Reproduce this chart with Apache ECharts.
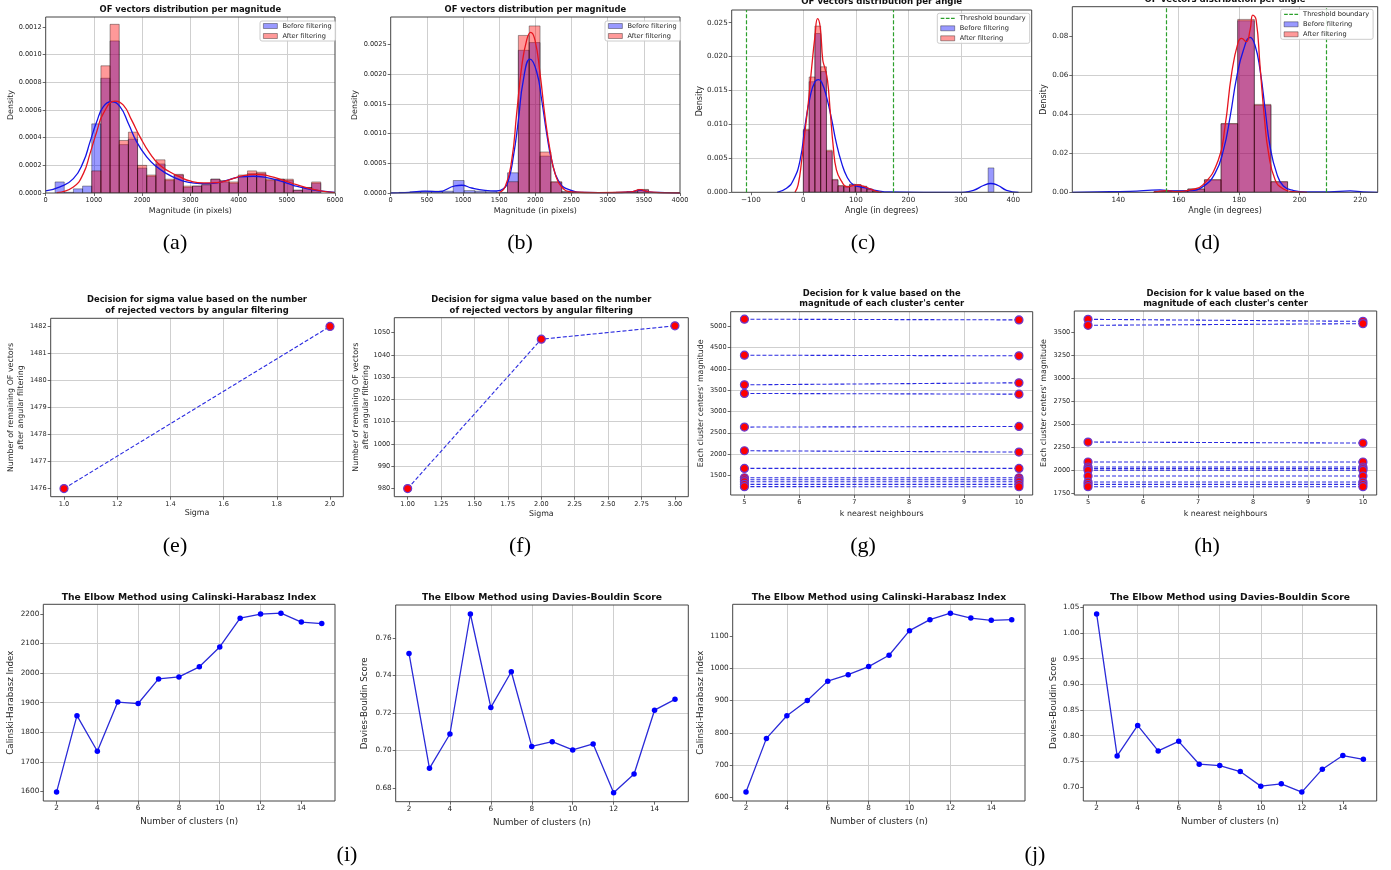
<!DOCTYPE html>
<html>
<head>
<meta charset="utf-8">
<title>OF vectors filtering and clustering</title>
<script src="https://cdn.jsdelivr.net/npm/echarts@6.0.0/dist/echarts.min.js"></script>
<style>
  html, body { margin: 0; padding: 0; background: #fff; }
  #main { width: 1391px; height: 870px; }
</style>
</head>
<body>
<div id="main"></div>
<script>
var FONT = 'DejaVu Sans';

// (a) magnitude histogram, first sequence
var aBinEdges = [195, 385, 575, 765, 955, 1145, 1335, 1525, 1715, 1905, 2095, 2285, 2475, 2665, 2855, 3045, 3235, 3425, 3615, 3805, 3995, 4185, 4375, 4565, 4755, 4945, 5135, 5325, 5515, 5705];
var aBefore = [0.00008, 0.000005, 0.00003, 0.00005, 0.0005, 0.00083, 0.0011, 0.00035, 0.00039, 0.00018, 0.00012, 0.00021, 0.00009, 0.00013, 0.00004, 0.00005, 0.00006, 0.0001, 0.00008, 0.00007, 0.00012, 0.00014, 0.00014, 0.00009, 0.0001, 0.00009, 0.00002, 0.00004, 0.00007];
var aAfter = [0, 0, 0, 0, 0.00016, 0.00092, 0.00122, 0.00038, 0.00044, 0.0002, 0.00013, 0.00024, 0.0001, 0.000135, 0.00005, 0.00005, 0.00006, 0.0001, 0.00009, 0.00008, 0.00013, 0.00016, 0.00015, 0.0001, 0.0001, 0.0001, 0.00002, 0.00004, 0.00008];
var aKdeBefore = [[0, 0.000015], [297, 0.000044], [574, 0.000104], [781, 0.000225], [919, 0.00037], [1058, 0.000515], [1196, 0.000624], [1369, 0.00066], [1541, 0.000624], [1714, 0.000503], [1887, 0.00037], [2094, 0.000261], [2302, 0.000189], [2509, 0.00014], [2716, 0.000104], [2924, 0.00008], [3200, 0.000068], [3477, 0.00007], [3753, 0.000092], [4030, 0.000116], [4306, 0.000121], [4583, 0.000111], [4859, 0.000087], [5136, 0.000056], [5412, 0.000031], [5689, 0.000015], [6000, 0.000005]];
var aKdeAfter = [[228, 0.000002], [574, 0.000044], [781, 0.00014], [919, 0.000285], [1058, 0.000443], [1196, 0.000576], [1438, 0.000665], [1611, 0.000636], [1783, 0.000527], [1956, 0.000406], [2164, 0.000285], [2371, 0.0002], [2578, 0.000152], [2786, 0.000116], [2993, 0.000087], [3270, 0.000073], [3546, 0.000075], [3822, 0.000097], [4099, 0.000126], [4375, 0.000135], [4652, 0.000121], [4928, 0.000092], [5205, 0.00006], [5481, 0.000031], [5758, 0.000012], [6000, 0.000002]];
var aXTicks = [0, 1000, 2000, 3000, 4000, 5000, 6000];
var aYTicks = [0, 0.0002, 0.0004, 0.0006, 0.0008, 0.001, 0.0012];

// (b) magnitude histogram, second sequence
var bBinEdges = [115, 265, 415, 565, 715, 865, 1015, 1165, 1315, 1465, 1615, 1765, 1915, 2065, 2215, 2365, 2515, 2665, 2815, 2965, 3115, 3265, 3415, 3565];
var bBefore = [0.00001, 0.00002, 0.00003, 0.00003, 0.00003, 0.00021, 0.00004, 0.00003, 0.00002, 0.00001, 0.00034, 0.0024, 0.00253, 0.00062, 0.00018, 0.00002, 0.00001, 0.000005, 0.000005, 0, 0.00001, 0.00002, 0.00005];
var bAfter = [0, 0, 0, 0, 0, 0, 0, 0, 0, 0, 0.00019, 0.00265, 0.00281, 0.00069, 0.00019, 0.00002, 0.00001, 0.000005, 0.000005, 0, 0.00001, 0.00002, 0.00006];
var bKdeBefore = [[0, 0], [198, 0.000006], [475, 0.00003], [659, 0.000022], [889, 0.00012], [982, 0.00013], [1120, 0.000084], [1304, 0.000045], [1465, 0.000034], [1558, 0.00007], [1627, 0.00021], [1696, 0.00061], [1765, 0.00122], [1834, 0.0019], [1926, 0.00225], [2018, 0.00204], [2088, 0.00156], [2157, 0.001], [2226, 0.00055], [2318, 0.00021], [2456, 0.00006], [2687, 0.00001], [3055, 0.000006], [3332, 0.00002], [3447, 0.00005], [3562, 0.00002], [3793, 0.000006], [4000, 0]];
var bKdeAfter = [[1488, 0], [1581, 0.0001], [1673, 0.00055], [1742, 0.00134], [1811, 0.00212], [1880, 0.00257], [1935, 0.0027], [1995, 0.00257], [2065, 0.00201], [2134, 0.00128], [2203, 0.00072], [2272, 0.00033], [2364, 0.0001], [2502, 0.00002], [2871, 0.000006], [3332, 0.00002], [3447, 0.000056], [3562, 0.00002], [4000, 0]];
var bXTicks = [0, 500, 1000, 1500, 2000, 2500, 3000, 3500, 4000];
var bYTicks = [0, 0.0005, 0.001, 0.0015, 0.002, 0.0025];

// (c) angle histogram, first sequence
var cBinEdges = [0, 11, 22, 33, 44, 55, 66, 77, 88, 99, 110, 121, 132, 143, 154, 165, 176, 187, 198, 209, 220, 231, 242, 253, 264, 275, 286, 297, 308, 319, 330, 341, 352, 363];
var cBefore = [0.0091, 0.0163, 0.0234, 0.0178, 0.006, 0.0018, 0.0009, 0.0008, 0.0011, 0.0011, 0.0008, 0.0004, 0.0001, 0, 0, 0, 0, 0, 0, 0, 0, 0, 0, 0, 0, 0, 0, 0, 0, 0, 0, 0, 0.0036];
var cAfter = [0.0093, 0.017, 0.0245, 0.0185, 0.0062, 0.0019, 0.001, 0.0009, 0.0012, 0.0011, 0.0009, 0.0005, 0.0001, 0, 0, 0, 0, 0, 0, 0, 0, 0, 0, 0, 0, 0, 0, 0, 0, 0, 0, 0, 0];
var cKdeBefore = [[-50, 0], [-32, 0.0006], [-19, 0.0018], [-6, 0.0048], [3, 0.0097], [13, 0.0141], [22, 0.0163], [29, 0.0166], [35, 0.0162], [44, 0.0141], [54, 0.0107], [63, 0.0072], [73, 0.0043], [83, 0.0023], [95, 0.0011], [108, 0.0008], [121, 0.0006], [140, 0.00025], [165, 0.00005], [229, 0], [292, 0], [324, 0.0003], [343, 0.001], [357, 0.0013], [371, 0.001], [387, 0.0003], [410, 0]];
var cKdeAfter = [[-16, 0], [-10, 0.0011], [-3, 0.0048], [3, 0.0089], [10, 0.0136], [16, 0.0185], [22, 0.0229], [27, 0.0256], [32, 0.0244], [37, 0.0195], [41, 0.0183], [46, 0.0165], [51, 0.0121], [57, 0.0067], [63, 0.0033], [73, 0.0016], [83, 0.0008], [95, 0.001], [105, 0.0011], [114, 0.0009], [127, 0.0005], [140, 0.0001], [149, 0]];
var cThresholds = [-109, 171];
var cXTicks = [-100, 0, 100, 200, 300, 400];
var cYTicks = [0, 0.005, 0.01, 0.015, 0.02, 0.025];

// (d) angle histogram, second sequence
var dBinEdges = [152, 157.5, 163, 168.5, 174, 179.5, 185, 190.5, 196];
var dBefore = [0.0005, 0.0007, 0.0017, 0.0063, 0.035, 0.0878, 0.0445, 0.0053];
var dAfter = [0.0005, 0.0007, 0.0017, 0.0065, 0.0352, 0.0885, 0.045, 0.0055];
var dKdeBefore = [[124.8, 0], [133, 0.0002], [143.9, 0.0005], [153.8, 0.0012], [158, 0.0007], [163.7, 0.0009], [168, 0.0029], [172, 0.0097], [174.8, 0.0217], [177, 0.0387], [179.2, 0.0592], [181.4, 0.0728], [183.6, 0.0793], [185.2, 0.0754], [186.9, 0.0626], [188.6, 0.0421], [190.2, 0.0234], [192.4, 0.0097], [194.6, 0.0032], [198, 0.0009], [202, 0.0002], [209.7, 0.0002], [216.7, 0.0007], [221, 0.0002], [225.8, 0]];
var dKdeAfter = [[151.6, 0], [156, 0.0009], [159.3, 0.0003], [163.7, 0.0012], [168, 0.0038], [173.1, 0.0165], [175.3, 0.0336], [177.5, 0.0609], [179.7, 0.0771], [180.8, 0.0788], [182.3, 0.0771], [183.6, 0.0831], [184.5, 0.0907], [185.6, 0.0882], [186.9, 0.0643], [188.3, 0.0387], [189.7, 0.02], [191.9, 0.0063], [194.6, 0.0017], [198, 0.0003], [202.4, 0]];
var dThresholds = [156, 208.7];
var dXTicks = [140, 160, 180, 200, 220];
var dYTicks = [0, 0.02, 0.04, 0.06, 0.08];

// (e) (f) sigma decision
var eSigma = [1, 2];
var eRemaining = [1476, 1482];
var eXTicks = [1, 1.2, 1.4, 1.6, 1.8, 2];
var eYTicks = [1476, 1477, 1478, 1479, 1480, 1481, 1482];
var fSigma = [1, 2, 3];
var fRemaining = [980, 1047, 1053];
var fXTicks = [1, 1.25, 1.5, 1.75, 2, 2.25, 2.5, 2.75, 3];
var fYTicks = [980, 990, 1000, 1010, 1020, 1030, 1040, 1050];

// (g) (h) k decision: cluster center magnitudes for k = 5 and k = 10
var kValues = [5, 10];
var gK5 = [5164, 4320, 3625, 3422, 2633, 2078, 1664, 1445, 1398, 1352, 1290, 1236];
var gK10 = [5148, 4305, 3672, 3406, 2648, 2047, 1664, 1445, 1398, 1352, 1290, 1234];
var gYTicks = [1500, 2000, 2500, 3000, 3500, 4000, 4500, 5000];
var hK5 = [3637, 3572, 2309, 2093, 2039, 2021, 2003, 1941, 1876, 1851, 1826];
var hK10 = [3615, 3590, 2298, 2093, 2039, 2021, 2003, 1941, 1876, 1851, 1826];
var hYTicks = [1750, 2000, 2250, 2500, 2750, 3000, 3250, 3500];
var kXTicks = [5, 6, 7, 8, 9, 10];

// (i) (j) elbow method
var nClusters = [2, 3, 4, 5, 6, 7, 8, 9, 10, 11, 12, 13, 14, 15];
var iCH = [1598, 1856, 1736, 1902, 1897, 1980, 1987, 2021, 2088, 2185, 2199, 2202, 2172, 2167];
var iDB = [0.7518, 0.6905, 0.7088, 0.7728, 0.723, 0.742, 0.7022, 0.7047, 0.7003, 0.7035, 0.6775, 0.6875, 0.7215, 0.7273];
var jCH = [617, 783, 853, 900, 960, 980, 1005, 1040, 1116, 1150, 1170, 1155, 1148, 1150];
var jDB = [1.0371, 0.7607, 0.8201, 0.7704, 0.7891, 0.7446, 0.742, 0.7303, 0.7019, 0.7065, 0.6903, 0.7349, 0.7614, 0.7542];
var nXTicks = [2, 4, 6, 8, 10, 12, 14];
var iCHTicks = [1600, 1700, 1800, 1900, 2000, 2100, 2200];
var iDBTicks = [0.68, 0.7, 0.72, 0.74, 0.76];
var jCHTicks = [600, 700, 800, 900, 1000, 1100];
var jDBTicks = [0.7, 0.75, 0.8, 0.85, 0.9, 0.95, 1.0, 1.05];

var BEFORE_FILL = 'rgba(0,0,255,0.4)';
var AFTER_FILL = 'rgba(255,0,0,0.4)';
var EDGE = 'rgba(0,0,0,0.45)';

function fmt(digits) {
    return function (v) {
        return v.toFixed(digits).replace('-', '\u2212');
    };
}

function axis(idx, min, max, ticks, digits, name, gap, tickSize, nameSize) {
    return {
        type: 'value', gridIndex: idx, min: min, max: max,
        name: name, nameLocation: 'middle', nameGap: gap, nameMoveOverlap: false,
        nameTextStyle: {fontFamily: FONT, fontSize: nameSize, color: '#262626', lineHeight: nameSize * 1.28},
        axisLine: {show: false, onZero: false},
        axisTick: {show: true, length: 3, customValues: ticks, lineStyle: {color: '#444', width: 0.8}},
        axisLabel: {customValues: ticks, margin: 4, fontFamily: FONT, fontSize: tickSize, color: '#262626', formatter: fmt(digits)},
        splitLine: {show: true, showMinLine: false, showMaxLine: false, lineStyle: {color: '#cfcfcf', width: 1}}
    };
}

function bins(edges, heights) {
    var out = [];
    for (var i = 0; i < heights.length; i++) {
        if (heights[i] > 0) out.push([edges[i], edges[i + 1], heights[i]]);
    }
    return out;
}

function histSeries(name, idx, edges, heights, fill) {
    return {
        type: 'custom', name: name, xAxisIndex: idx, yAxisIndex: idx,
        encode: {x: [0, 1], y: 2}, clip: true, z: 2,
        data: bins(edges, heights),
        renderItem: function (params, api) {
            var p0 = api.coord([api.value(0), api.value(2)]);
            var p1 = api.coord([api.value(1), 0]);
            return {
                type: 'rect',
                shape: {x: p0[0], y: p0[1], width: p1[0] - p0[0], height: p1[1] - p0[1]},
                style: {fill: fill, stroke: EDGE, lineWidth: 0.8}
            };
        }
    };
}

function kdeSeries(idx, pts, color) {
    return {
        type: 'line', xAxisIndex: idx, yAxisIndex: idx, data: pts,
        smooth: 0.5, symbol: 'none', silent: true, z: 4,
        lineStyle: {color: color, width: 1.3}
    };
}

function thresholdSeries(idx, values) {
    var lines = [];
    for (var i = 0; i < values.length; i++) lines.push({xAxis: values[i]});
    return {
        type: 'line', name: 'Threshold boundary', xAxisIndex: idx, yAxisIndex: idx, data: [],
        symbol: 'none', lineStyle: {color: '#2ca02c', type: [4, 2], width: 1.2},
        markLine: {symbol: 'none', silent: true, label: {show: false}, animation: false,
            lineStyle: {color: '#2ca02c', type: [4, 2], width: 1.2}, data: lines}
    };
}

function zip(xs, ys) {
    var out = [];
    for (var i = 0; i < xs.length; i++) out.push([xs[i], ys[i]]);
    return out;
}

function dashedPoints(idx, pts) {
    return {
        type: 'line', xAxisIndex: idx, yAxisIndex: idx, data: pts, z: 4,
        symbol: 'circle', symbolSize: 8,
        itemStyle: {color: '#ff0000', borderColor: '#6a3ad0', borderWidth: 1.2},
        lineStyle: {color: '#2a2ae0', type: [4, 2], width: 1.1}
    };
}

function elbowLine(idx, ys) {
    return {
        type: 'line', xAxisIndex: idx, yAxisIndex: idx, data: zip(nClusters, ys), z: 4,
        symbol: 'circle', symbolSize: 5.5,
        itemStyle: {color: '#0000ff'},
        lineStyle: {color: '#2a2ad8', width: 1.3}
    };
}

var grids = [
    {left: 45.7, top: 17, width: 289.3, height: 176},
    {left: 390.7, top: 17, width: 289.3, height: 176},
    {left: 731.7, top: 10, width: 300, height: 182.3},
    {left: 1072.3, top: 6.7, width: 305.4, height: 185.6},
    {left: 50.7, top: 318.3, width: 292.6, height: 178.4},
    {left: 394.3, top: 317.7, width: 294, height: 179},
    {left: 730.7, top: 311.7, width: 302, height: 183.3},
    {left: 1074.3, top: 311, width: 302.4, height: 184},
    {left: 43.3, top: 604.3, width: 291.7, height: 196.7},
    {left: 395.7, top: 605, width: 292.6, height: 196.7},
    {left: 732.7, top: 604.3, width: 292.3, height: 196.7},
    {left: 1083.3, top: 605, width: 293.4, height: 196}
];
for (var g = 0; g < grids.length; g++) {
    grids[g].show = true;
    grids[g].z = 5;
    grids[g].borderColor = '#444';
    grids[g].borderWidth = 1;
    grids[g].backgroundColor = 'rgba(0,0,0,0)';
    grids[g].containLabel = false;
    grids[g].outerBoundsMode = 'none';
}

var MAG = 'Magnitude (in pixels)', ANG = 'Angle (in degrees)', DEN = 'Density';
var SIG_Y = 'Number of remaining OF vectors\nafter angular filtering';
var K_Y = "Each cluster centers' magnitude";
var N_X = 'Number of clusters (n)';

var xAxes = [
    axis(0, 0, 6000, aXTicks, 0, MAG, 13.2, 6.6, 7.9),
    axis(1, 0, 4000, bXTicks, 0, MAG, 13.2, 6.6, 7.9),
    axis(2, -136.5, 435, cXTicks, 0, ANG, 13.2, 7.2, 8),
    axis(3, 124.8, 225.8, dXTicks, 0, ANG, 13.2, 7.2, 8),
    axis(4, 0.95, 2.05, eXTicks, 1, 'Sigma', 11.5, 6.6, 7.9),
    axis(5, 0.9, 3.1, fXTicks, 2, 'Sigma', 12, 6.6, 7.9),
    axis(6, 4.75, 10.25, kXTicks, 0, 'k nearest neighbours', 13.8, 6.6, 7.9),
    axis(7, 4.75, 10.25, kXTicks, 0, 'k nearest neighbours', 13.8, 6.6, 7.9),
    axis(8, 1.35, 15.65, nXTicks, 0, N_X, 15, 7.3, 8.7),
    axis(9, 1.35, 15.65, nXTicks, 0, N_X, 15, 7.3, 8.7),
    axis(10, 1.35, 15.65, nXTicks, 0, N_X, 15, 7.3, 8.7),
    axis(11, 1.35, 15.65, nXTicks, 0, N_X, 15, 7.3, 8.7)
];
var yAxes = [
    axis(0, 0, 0.001273, aYTicks, 4, DEN, 29.5, 6.6, 7.9),
    axis(1, 0, 0.00296, bYTicks, 4, DEN, 30.5, 6.6, 7.9),
    axis(2, 0, 0.02687, cYTicks, 3, DEN, 26.2, 7.2, 8),
    axis(3, 0, 0.095, dYTicks, 2, DEN, 22.8, 7.2, 8),
    axis(4, 1475.7, 1482.3, eYTicks, 0, SIG_Y, 24.5, 6.6, 7.9),
    axis(5, 976.35, 1056.65, fYTicks, 0, SIG_Y, 23, 6.6, 7.9),
    axis(6, 1040, 5340, gYTicks, 0, K_Y, 24.5, 6.6, 7.9),
    axis(7, 1736, 3727, hYTicks, 0, K_Y, 24.8, 6.6, 7.9),
    axis(8, 1568, 2232, iCHTicks, 0, 'Calinski-Harabasz Index', 27.3, 7.3, 8.7),
    axis(9, 0.6727, 0.7776, iDBTicks, 2, 'Davies-Bouldin Score', 25, 7.3, 8.7),
    axis(10, 589.4, 1197.6, jCHTicks, 0, 'Calinski-Harabasz Index', 26.7, 7.3, 8.7),
    axis(11, 0.673, 1.0544, jDBTicks, 2, 'Davies-Bouldin Score', 24.3, 7.3, 8.7)
];

var series = [
    histSeries('Before filtering', 0, aBinEdges, aBefore, BEFORE_FILL),
    histSeries('After filtering', 0, aBinEdges, aAfter, AFTER_FILL),
    kdeSeries(0, aKdeBefore, '#1414e6'),
    kdeSeries(0, aKdeAfter, '#e6141e'),
    histSeries('Before filtering', 1, bBinEdges, bBefore, BEFORE_FILL),
    histSeries('After filtering', 1, bBinEdges, bAfter, AFTER_FILL),
    kdeSeries(1, bKdeBefore, '#1414e6'),
    kdeSeries(1, bKdeAfter, '#e6141e'),
    histSeries('Before filtering', 2, cBinEdges, cBefore, BEFORE_FILL),
    histSeries('After filtering', 2, cBinEdges, cAfter, AFTER_FILL),
    kdeSeries(2, cKdeBefore, '#1414e6'),
    kdeSeries(2, cKdeAfter, '#e6141e'),
    thresholdSeries(2, cThresholds),
    histSeries('Before filtering', 3, dBinEdges, dBefore, BEFORE_FILL),
    histSeries('After filtering', 3, dBinEdges, dAfter, AFTER_FILL),
    kdeSeries(3, dKdeBefore, '#1414e6'),
    kdeSeries(3, dKdeAfter, '#e6141e'),
    thresholdSeries(3, dThresholds),
    dashedPoints(4, zip(eSigma, eRemaining)),
    dashedPoints(5, zip(fSigma, fRemaining)),
    elbowLine(8, iCH),
    elbowLine(9, iDB),
    elbowLine(10, jCH),
    elbowLine(11, jDB)
];
for (var c = 0; c < gK5.length; c++) {
    series.push(dashedPoints(6, zip(kValues, [gK5[c], gK10[c]])));
}
for (var c2 = 0; c2 < hK5.length; c2++) {
    series.push(dashedPoints(7, zip(kValues, [hK5[c2], hK10[c2]])));
}

function title(text, cx, top, size, lh) {
    return {
        text: text, left: cx, top: top, textAlign: 'center', textVerticalAlign: 'top', padding: 0,
        textStyle: {fontFamily: FONT, fontWeight: 'bold', fontSize: size, color: '#111', lineHeight: lh}
    };
}
function panelLabel(text, cx, cy) {
    return {
        text: text, left: cx, top: cy - 12, textAlign: 'center', textVerticalAlign: 'top', padding: 0,
        textStyle: {fontFamily: 'Liberation Serif', fontWeight: 'normal', fontSize: 22, color: '#000', lineHeight: 24}
    };
}
var SIG_T = 'Decision for sigma value based on the number\nof rejected vectors by angular filtering';
var K_T = "Decision for k value based on the\nmagnitude of each cluster's center";
var titles = [
    title('OF vectors distribution per magnitude', 190.3, 5, 8.4, 10),
    title('OF vectors distribution per magnitude', 535.3, 5, 8.4, 10),
    title('OF vectors distribution per angle', 881.7, -3.5, 8.6, 10),
    title('OF vectors distribution per angle', 1225, -5.5, 8.6, 10),
    title(SIG_T, 197, 294.6, 8.4, 10.7),
    title(SIG_T, 541.3, 294.6, 8.4, 10.7),
    title(K_T, 881.7, 288, 8.4, 10.7),
    title(K_T, 1225.5, 288, 8.4, 10.7),
    title('The Elbow Method using Calinski-Harabasz Index', 189, 592.2, 9.2, 11),
    title('The Elbow Method using Davies-Bouldin Score', 542, 592.2, 9.2, 11),
    title('The Elbow Method using Calinski-Harabasz Index', 878.9, 592.2, 9.2, 11),
    title('The Elbow Method using Davies-Bouldin Score', 1230, 592.2, 9.2, 11),
    panelLabel('(a)', 175, 243), panelLabel('(b)', 520, 243),
    panelLabel('(c)', 863, 243), panelLabel('(d)', 1207, 243),
    panelLabel('(e)', 175, 546), panelLabel('(f)', 520, 546),
    panelLabel('(g)', 863, 546), panelLabel('(h)', 1207, 546),
    panelLabel('(i)', 347, 855), panelLabel('(j)', 1035, 855)
];

var ITEM_BEFORE = {name: 'Before filtering', icon: 'rect', itemStyle: {color: BEFORE_FILL, borderColor: EDGE, borderWidth: 0.8}};
var ITEM_AFTER = {name: 'After filtering', icon: 'rect', itemStyle: {color: AFTER_FILL, borderColor: EDGE, borderWidth: 0.8}};
var ITEM_THRESHOLD = {name: 'Threshold boundary', icon: 'path://M0,0h5v1.6h-5z M7,0h5v1.6h-5z M14,0h5v1.6h-5z', itemStyle: {color: '#2ca02c'}};

function legend(left, top, items) {
    return {
        left: left, top: top, orient: 'vertical', z: 8,
        itemWidth: 14, itemHeight: 5, itemGap: 2, padding: [1, 4, 1, 3],
        backgroundColor: 'rgba(255,255,255,0.85)', borderColor: '#cccccc', borderWidth: 1, borderRadius: 2,
        textStyle: {fontFamily: FONT, fontSize: 6.6, color: '#222', lineHeight: 8},
        selectedMode: false,
        data: items
    };
}
var legends = [
    legend(260, 21, [ITEM_BEFORE, ITEM_AFTER]),
    legend(605, 21, [ITEM_BEFORE, ITEM_AFTER]),
    legend(937.3, 13.3, [ITEM_THRESHOLD, ITEM_BEFORE, ITEM_AFTER]),
    legend(1280.7, 9.3, [ITEM_THRESHOLD, ITEM_BEFORE, ITEM_AFTER])
];

var myChart = echarts.init(document.getElementById('main'));
var option = {
    animation: false,
    backgroundColor: '#ffffff',
    title: titles,
    legend: legends,
    grid: grids,
    xAxis: xAxes,
    yAxis: yAxes,
    series: series
};
myChart.setOption(option);
</script>
</body>
</html>
